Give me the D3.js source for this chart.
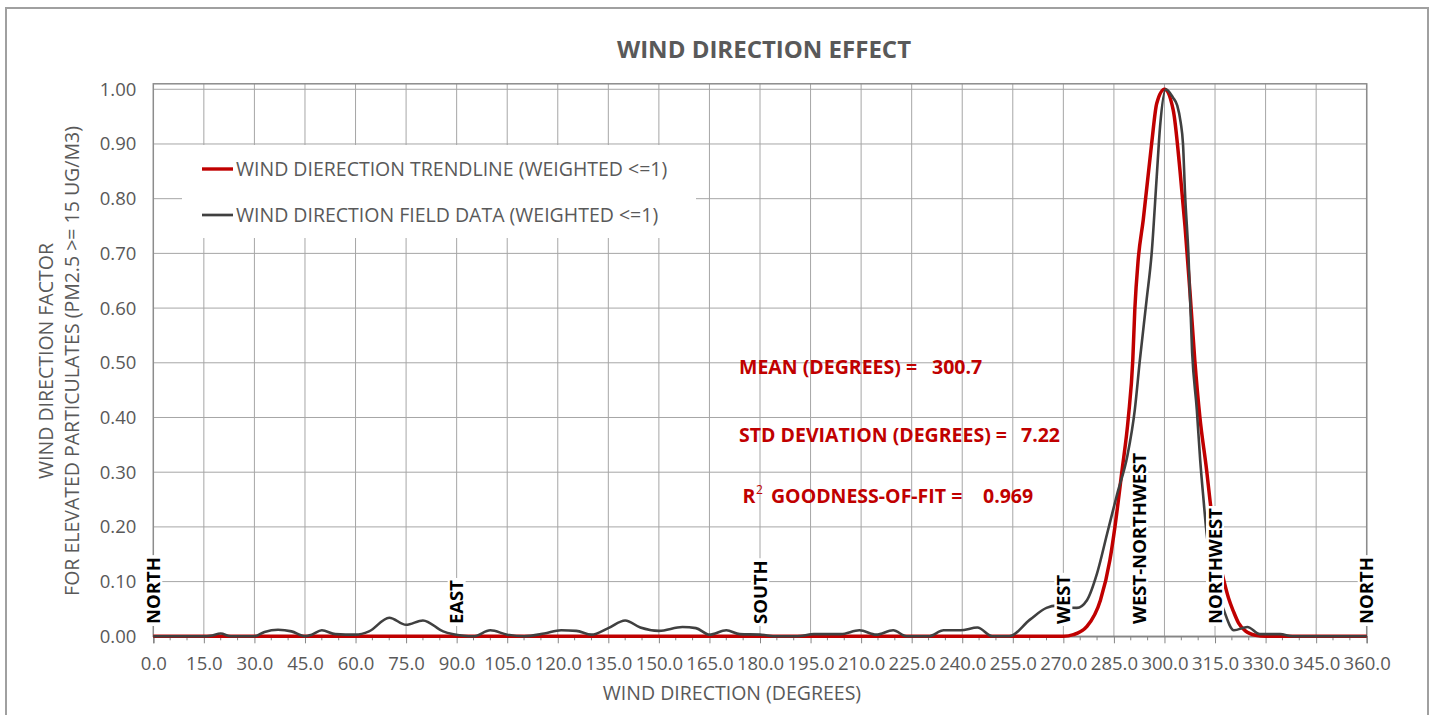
<!DOCTYPE html>
<html lang="en">
<head>
<meta charset="UTF-8">
<title>Wind Direction Effect</title>
<script src="https://d3js.org/d3.v7.min.js"></script>
<style>
  body { margin: 0; background: #fff; }
  svg { display: block; }
  text { font-family: 'Open Sans', sans-serif; }
  .tick text { fill: #595959; font-size: 18.5px; }
  .grid line { stroke: #a6a6a6; stroke-width: 1; }
  .dir text { font-weight: bold; font-size: 18.5px; fill: #000; }
  .note { font-weight: bold; font-size: 19.5px; fill: #c00000; }
  .axis-title { font-size: 19.5px; fill: #595959; }
</style>
</head>
<body>
<svg width="1435" height="715"></svg>
<script>
// field data (weighted <= 1)
const fieldDeg = [0, 5, 10, 15, 17, 20, 23, 30, 33, 37, 41, 45, 47, 50, 54, 60, 64, 70, 75, 80, 86, 92, 95,
  100, 105, 110, 116, 121, 125.5, 130, 135, 140, 144.5, 150, 157, 161, 165, 170, 174, 180, 185, 191, 196,
  204, 209.5, 214.5, 219.5, 223.5, 230, 234.5, 239.5, 244.5, 249, 254, 260, 265, 268, 271, 274, 277, 280,
  283, 286, 289, 291.2, 292.7, 294.7, 296.2, 297.7, 298.7, 300.4, 302.5, 303.8, 304.8, 305.5, 306.1, 307.1,
  308.2, 309.6, 310.6, 311.6, 312.5, 315, 317.6, 320.6, 324.6, 328.3, 334.3, 338, 345, 360];
const fieldVal = [0, 0, 0, 0, 0.001, 0.005, 0, 0, 0.008, 0.012, 0.009, 0, 0.003, 0.011, 0.004, 0.003, 0.009,
  0.034, 0.021, 0.029, 0.009, 0.001, 0, 0.011, 0.003, 0, 0.005, 0.011, 0.010, 0.003, 0.015, 0.029, 0.016,
  0.010, 0.017, 0.015, 0.003, 0.011, 0.004, 0.003, 0, 0, 0.004, 0.004, 0.011, 0.003, 0.011, 0, 0, 0.011,
  0.011, 0.016, 0, 0, 0.030, 0.052, 0.056, 0.053, 0.052, 0.066, 0.115, 0.188, 0.261, 0.330, 0.414, 0.505,
  0.615, 0.700, 0.840, 0.932, 1.000, 0.985, 0.970, 0.940, 0.900, 0.810, 0.700, 0.520, 0.414, 0.322, 0.249,
  0.188, 0.100, 0.048, 0.011, 0.017, 0.004, 0.004, 0, 0, 0];

// trendline
const trendDeg = [0, 270, 273, 277, 281, 283.8, 285.3, 287.3, 289.3, 290.6, 291.2, 292.2, 293.7, 296.2,
  297.7, 300, 302.6, 304.6, 306.1, 307.6, 309, 310.5, 312.5, 313.5, 315.5, 317.5, 319, 320.5, 322, 324,
  327, 330, 360];
const trendVal = [0, 0, 0.003, 0.018, 0.066, 0.139, 0.200, 0.298, 0.401, 0.505, 0.597, 0.688, 0.761, 0.901,
  0.974, 1.000, 0.962, 0.852, 0.749, 0.627, 0.505, 0.401, 0.304, 0.249, 0.160, 0.105, 0.070, 0.045, 0.024,
  0.010, 0.002, 0, 0];

const xTicks = d3.range(0, 361, 15);
const xMinor = d3.range(0, 361, 5).filter(d => d % 15 !== 0);
const yTicks = d3.range(0, 11).map(i => i / 10);

const directions = ["NORTH", "EAST", "SOUTH", "WEST", "WEST-NORTHWEST", "NORTHWEST", "NORTH"];
const directionDeg = [0, 90, 180, 270, 292.5, 315, 360];

const legendNames = ["WIND DIERECTION TRENDLINE (WEIGHTED <=1)", "WIND DIRECTION FIELD DATA (WEIGHTED <=1)"];
const colors = ["#c00000", "#404040"];

const svg = d3.select("svg");
const plotLeft = 153.3, plotRight = 1366.7, plotTop = 83.8, plotBottom = 636.3;

const x = d3.scaleLinear().domain([0, 360]).range([plotLeft, plotRight]);
const y = d3.scaleLinear().domain([0, 1.01]).range([plotBottom, plotTop]);

// outer chart border
svg.append("rect")
  .attr("x", 6).attr("y", 8).attr("width", 1422).attr("height", 720)
  .attr("fill", "none").attr("stroke", "#a0a0a0").attr("stroke-width", 2);

// title
svg.append("text")
  .attr("x", 764).attr("y", 58)
  .attr("text-anchor", "middle")
  .style("font-size", "24px").style("font-weight", "bold").style("fill", "#595959")
  .text("WIND DIRECTION EFFECT");

// grid
const grid = svg.append("g").attr("class", "grid");
grid.selectAll(".h").data(yTicks.slice(1)).enter().append("line")
  .attr("x1", plotLeft).attr("x2", plotRight)
  .attr("y1", d => y(d)).attr("y2", d => y(d));
grid.selectAll(".v").data(xTicks.slice(1)).enter().append("line")
  .attr("x1", d => x(d)).attr("x2", d => x(d))
  .attr("y1", plotTop).attr("y2", plotBottom);

// plot area border
svg.append("rect")
  .attr("x", plotLeft).attr("y", plotTop).attr("width", plotRight - plotLeft).attr("height", plotBottom - plotTop)
  .attr("fill", "none").attr("stroke", "#8c8c8c").attr("stroke-width", 1.5);

// axes
const xAxis = svg.append("g")
  .attr("transform", `translate(0,${plotBottom})`)
  .call(d3.axisBottom(x).tickValues(xTicks).tickFormat(d3.format(".1f")).tickSize(7).tickPadding(14));
xAxis.select(".domain").attr("stroke", "#868686").attr("stroke-width", 1.5);
xAxis.selectAll(".tick line").attr("stroke", "#868686");
xAxis.selectAll(".minor").data(xMinor).enter().append("line")
  .attr("x1", d => x(d)).attr("x2", d => x(d))
  .attr("y1", 0).attr("y2", 4)
  .attr("stroke", "#868686");

const yAxis = svg.append("g")
  .attr("transform", `translate(${plotLeft},0)`)
  .call(d3.axisLeft(y).tickValues(yTicks).tickFormat(d3.format(".2f")).tickSize(0).tickPadding(17));
yAxis.select(".domain").remove();

// axis titles
svg.append("text")
  .attr("class", "axis-title")
  .attr("x", 732).attr("y", 700)
  .attr("text-anchor", "middle")
  .text("WIND DIRECTION (DEGREES)");

svg.append("text")
  .attr("class", "axis-title")
  .attr("transform", "translate(53,361) rotate(-90)")
  .attr("text-anchor", "middle")
  .text("WIND DIRECTION FACTOR");
svg.append("text")
  .attr("class", "axis-title")
  .attr("transform", "translate(79,361) rotate(-90)")
  .attr("text-anchor", "middle")
  .text("FOR ELEVATED PARTICULATES (PM2.5 >= 15 UG/M3)");

// series
const line = d3.line()
  .x(d => x(d[0]))
  .y(d => y(d[1]))
  .curve(d3.curveMonotoneX);

svg.append("path")
  .datum(d3.zip(trendDeg, trendVal))
  .attr("fill", "none")
  .attr("stroke", colors[0])
  .attr("stroke-width", 3.5)
  .attr("stroke-linejoin", "round")
  .attr("d", line);

svg.append("path")
  .datum(d3.zip(fieldDeg, fieldVal))
  .attr("fill", "none")
  .attr("stroke", colors[1])
  .attr("stroke-width", 2.6)
  .attr("stroke-linejoin", "round")
  .attr("d", line);

// legend
svg.append("rect")
  .attr("x", 182).attr("y", 145).attr("width", 514).attr("height", 93)
  .attr("fill", "#fff");
const legend = svg.selectAll(".legend").data(legendNames).enter().append("g")
  .attr("transform", (d, i) => `translate(202,${169 + i * 46})`);
legend.append("line")
  .attr("x1", 0).attr("x2", 31)
  .attr("stroke", (d, i) => colors[i])
  .attr("stroke-width", (d, i) => i === 0 ? 3.4 : 2.7);
legend.append("text")
  .attr("x", 34).attr("dy", "0.35em")
  .style("font-size", "19.5px").style("fill", "#595959")
  .text(d => d);

// compass labels
const dirs = svg.selectAll(".dir").data(directions).enter().append("g")
  .attr("class", "dir")
  .attr("transform", (d, i) => `translate(${x(directionDeg[i])},624) rotate(-90)`);
dirs.append("text")
  .attr("x", 0).attr("dy", "0.36em")
  .text(d => d);
dirs.insert("rect", "text")
  .attr("x", -2).attr("y", -9)
  .attr("height", 18)
  .attr("width", function() { return this.parentNode.querySelector("text").getComputedTextLength() + 4; })
  .attr("fill", "#fff");

// fit statistics
const notes = [
  { t: "MEAN (DEGREES) =", x: 739, y: 374 },
  { t: "300.7", x: 932, y: 374 },
  { t: "STD DEVIATION (DEGREES) =", x: 739, y: 441.5 },
  { t: "7.22", x: 1021, y: 441.5 },
  { t: "R", x: 742.5, y: 503 },
  { t: "GOODNESS-OF-FIT =", x: 771, y: 503 },
  { t: "0.969", x: 983, y: 503 }
];
svg.selectAll(".note").data(notes).enter().append("text")
  .attr("class", "note")
  .attr("x", d => d.x).attr("y", d => d.y)
  .text(d => d.t);
svg.append("text")
  .attr("class", "note")
  .attr("x", 756).attr("y", 494)
  .style("font-size", "12px").style("font-weight", "normal")
  .text("2");
</script>
</body>
</html>
